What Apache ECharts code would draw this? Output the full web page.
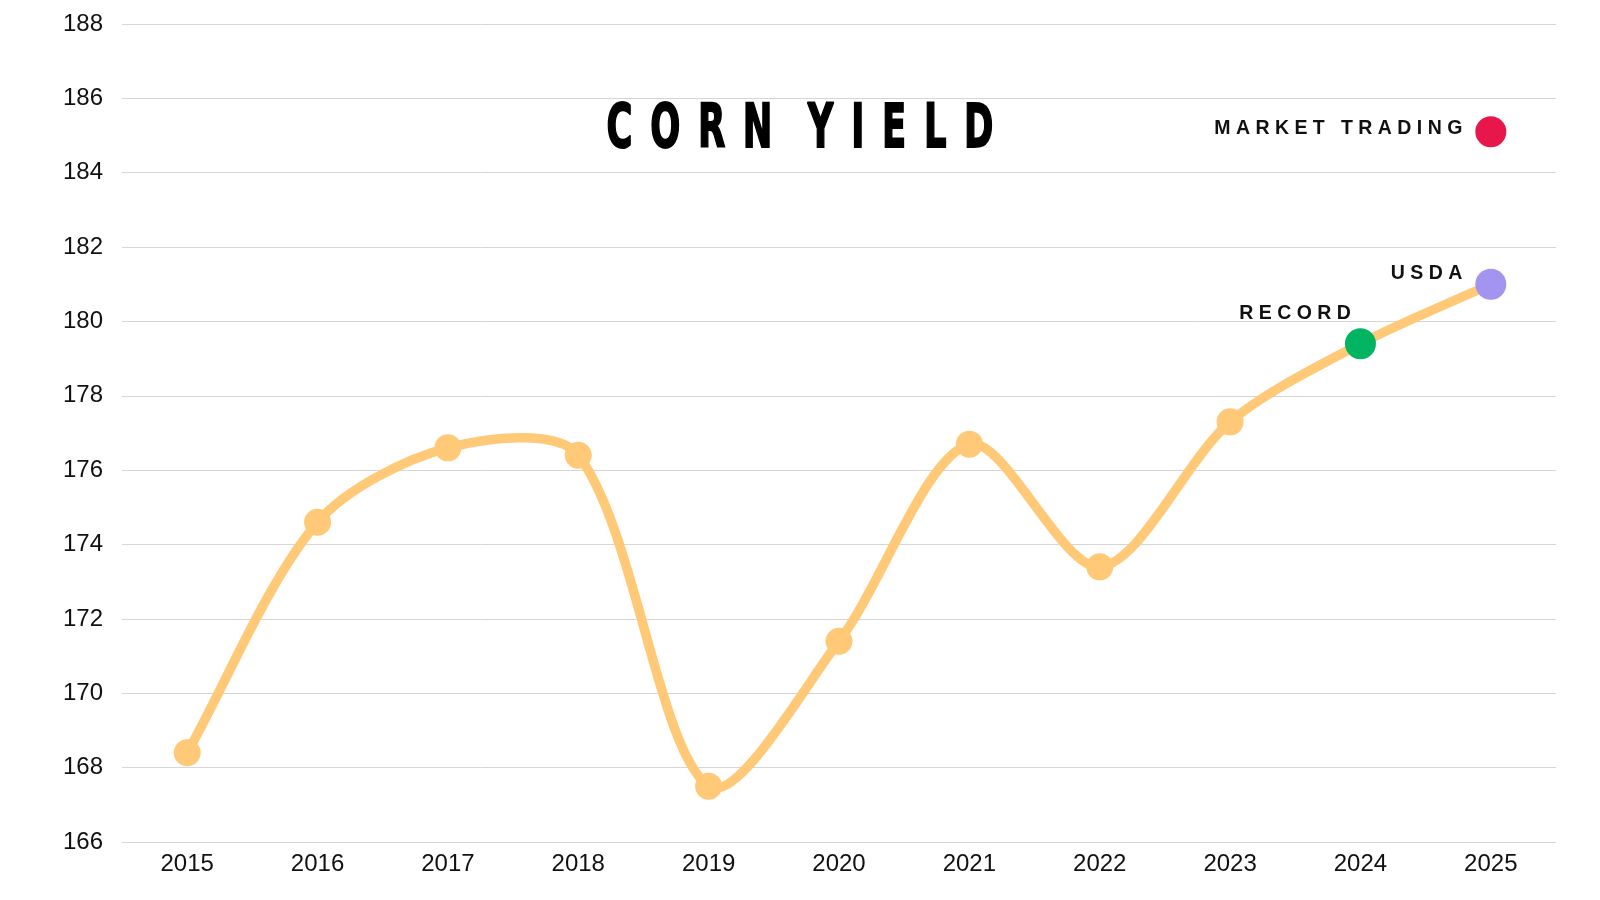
<!DOCTYPE html>
<html>
<head>
<meta charset="utf-8">
<script src="https://cdn.jsdelivr.net/npm/echarts@6/dist/echarts.min.js"></script>
<style>html,body{margin:0;padding:0;background:#fff}#c{width:1600px;height:900px}</style>
</head>
<body>
<div id="c"></div>
<script>
const years = ['2015','2016','2017','2018','2019','2020','2021','2022','2023','2024','2025'];
const yieldValues = [168.4, 174.6, 176.6, 176.4, 167.5, 171.4, 176.7, 173.4, 177.3, 179.4, 181.0];
const marketTrading = 185.1;
const yTicks = {min: 166, max: 188, interval: 2};
const titleText = 'CORN YIELD';
const labelRecord = 'RECORD';
const labelUsda = 'USDA';
const labelMarket = 'MARKET TRADING';

const EN = '\u2002';
function spaced(str, sep, wordSep) {
  return str.split(' ').map(w => w.split('').join(sep)).join(wordSep);
}

// Cardinal-style spline through the points (tension like a smooth line, no clamping)
function splinePath(pts, t) {
  const n = pts.length;
  const cps = pts.map((p, i) => {
    const prev = pts[i - 1] || p, next = pts[i + 1] || p;
    const d01 = Math.hypot(p[0] - prev[0], p[1] - prev[1]);
    const d12 = Math.hypot(next[0] - p[0], next[1] - p[1]);
    const sum = d01 + d12 || 1;
    const fa = t * d01 / sum, fb = t * d12 / sum;
    const vx = next[0] - prev[0], vy = next[1] - prev[1];
    return {prev: [p[0] - fa * vx, p[1] - fa * vy], next: [p[0] + fb * vx, p[1] + fb * vy]};
  });
  let d = 'M' + pts[0][0] + ' ' + pts[0][1];
  for (let i = 1; i < n; i++) {
    const a = cps[i - 1].next, b = cps[i].prev, p = pts[i];
    d += ' C' + a[0] + ' ' + a[1] + ' ' + b[0] + ' ' + b[1] + ' ' + p[0] + ' ' + p[1];
  }
  return d;
}

const chart = echarts.init(document.getElementById('c'));
const labelFont = {fontFamily: 'Liberation Sans', fontWeight: 'bold', fontSize: 19.5, color: '#111'};
const lineData = yieldValues.map((v, i) => {
  if (i === 9) return {value: v, symbolSize: 31, itemStyle: {color: '#00B462'},
    label: Object.assign({show: true, formatter: spaced(labelRecord, ' ', '    '), position: 'left', offset: [11, -30]}, labelFont)};
  if (i === 10) return {value: v, symbolSize: 31, itemStyle: {color: '#A394EF'},
    label: Object.assign({show: true, formatter: spaced(labelUsda, ' ', '    '), position: 'left', offset: [-8, -11]}, labelFont)};
  return v;
});
chart.setOption({
  animation: false,
  backgroundColor: '#fff',
  graphic: [{
    type: 'text',
    x: 800,
    y: 131,
    scaleX: 0.58,
    style: {
      text: spaced(titleText, EN, EN + EN),
      fontFamily: 'DejaVu Sans',
      fontWeight: 'bold',
      fontSize: 61,
      fill: '#000',
      stroke: '#000',
      lineWidth: 2,
      align: 'center',
      verticalAlign: 'middle'
    }
  }],
  grid: {left: 122, right: 44, top: 24, bottom: 58},
  xAxis: {
    type: 'category',
    data: years,
    boundaryGap: true,
    axisLine: {show: false},
    axisTick: {show: false},
    axisLabel: {fontFamily: 'Liberation Sans', fontSize: 24, color: '#111', margin: 10}
  },
  yAxis: {
    type: 'value',
    min: yTicks.min, max: yTicks.max, interval: yTicks.interval,
    axisLine: {show: false},
    axisTick: {show: false},
    axisLabel: {fontFamily: 'Liberation Sans', fontSize: 24, color: '#111', margin: 19},
    splitLine: {lineStyle: {color: '#d6d6d6', width: 1}}
  },
  series: [
    {
      type: 'custom',
      data: [[0, yieldValues[0]]],
      clip: false,
      silent: true,
      z: 1,
      renderItem: function (params, api) {
        const pts = yieldValues.map((v, i) => api.coord([i, v]));
        return {
          type: 'path',
          shape: {pathData: splinePath(pts, 0.3)},
          style: {fill: 'none', stroke: '#FFC977', lineWidth: 9.5, lineCap: 'round', lineJoin: 'round'}
        };
      }
    },
    {
      type: 'line',
      data: lineData,
      symbol: 'circle',
      symbolSize: 27,
      lineStyle: {width: 0, opacity: 0},
      itemStyle: {color: '#FFC977', opacity: 1},
      z: 2
    },
    {
      type: 'scatter',
      data: [[10, marketTrading]],
      symbol: 'circle',
      symbolSize: 31,
      itemStyle: {color: '#E8174B', opacity: 1},
      label: Object.assign({show: true, formatter: spaced(labelMarket, ' ', '   '), position: 'left', offset: [-8, -3]}, labelFont),
      z: 3
    }
  ]
});
</script>
</body>
</html>
